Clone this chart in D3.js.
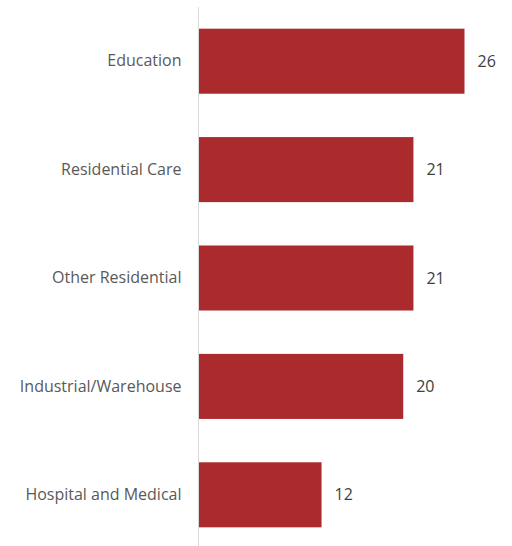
<!DOCTYPE html>
<html>
<head>
<meta charset="utf-8">
<script src="https://cdn.jsdelivr.net/npm/d3@7"></script>
<style>
  body { margin: 0; background: #fff; }
  text { font-family: "Open Sans", sans-serif; }
</style>
</head>
<body>
<svg id="chart"></svg>
<script>
let categories = ["Education", "Residential Care", "Other Residential", "Industrial/Warehouse", "Hospital and Medical"];
let values = [26, 21, 21, 20, 12];

let width = 512, height = 546;
let margin = {top: 7, right: 20, bottom: 0, left: 199};

let svg = d3.select("#chart").attr("width", width).attr("height", height);

let x = d3.scaleLinear()
    .domain([0, 26])
    .range([margin.left, margin.left + 265.5]);

let y = d3.scaleBand()
    .domain(categories)
    .range([margin.top, 549])
    .paddingInner(0.4)
    .paddingOuter(0.2);

let data = categories.map((c, i) => ({cat: c, value: values[i]}));

svg.append("g")
    .selectAll("rect")
    .data(data)
    .join("rect")
    .attr("x", x(0))
    .attr("y", d => y(d.cat))
    .attr("width", d => x(d.value) - x(0))
    .attr("height", y.bandwidth())
    .attr("fill", "#ab2a2d");

// category axis
let yAxis = g => g
    .attr("transform", `translate(${margin.left - 0.5},0)`)
    .call(d3.axisLeft(y).tickSize(0).tickPadding(17))
    .call(g => g.select(".domain").attr("stroke", "#d9d9d9").attr("d", `M0,${margin.top}V${height}`))
    .call(g => g.selectAll(".tick text")
        .attr("fill", "#595959")
        .attr("font-size", 16)
        .attr("font-family", "'Open Sans', sans-serif"));

svg.append("g").call(yAxis);

// value labels
svg.append("g")
    .selectAll("text")
    .data(data)
    .join("text")
    .attr("x", d => x(d.value) + 13)
    .attr("y", d => y(d.cat) + y.bandwidth() / 2)
    .attr("dy", "0.35em")
    .attr("fill", "#404040")
    .attr("font-size", 16)
    .text(d => d.value);
</script>
</body>
</html>
